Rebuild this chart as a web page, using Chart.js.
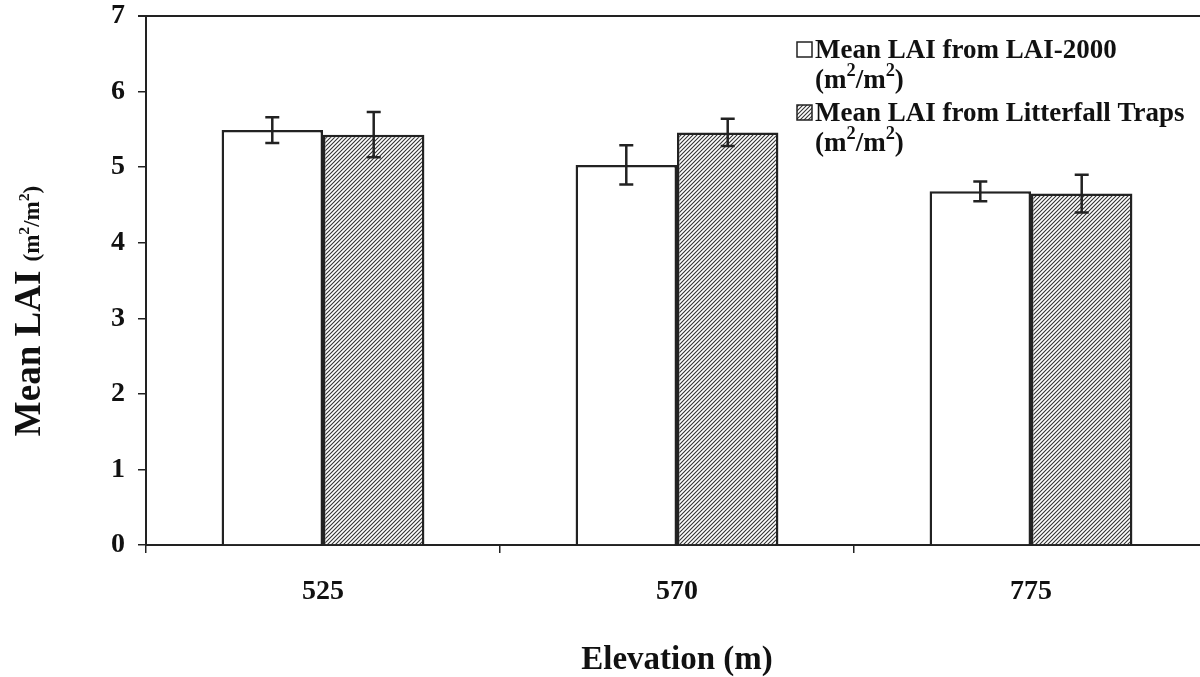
<!DOCTYPE html>
<html>
<head>
<meta charset="utf-8">
<script src="https://cdn.jsdelivr.net/npm/chart.js@4"></script>
<style>
    html, body { margin: 0; padding: 0; background: #fff; overflow: hidden; }
    #wrap { width: 1208px; height: 677px; }
</style>
</head>
<body>
<div id="wrap"><canvas id="chart" width="1208" height="677"></canvas></div>
<script>
// values
const elevations = ["525", "570", "775"];
const laiMeter = [5.49, 5.03, 4.68];
const laiMeterErr = [0.17, 0.26, 0.13];
const laiTraps = [5.43, 5.46, 4.65];
const laiTrapsErr = [0.30, 0.18, 0.25];
const yTicks = [0, 1, 2, 3, 4, 5, 6, 7];

const INK = "#222";
const FONT = "'Liberation Serif', 'Times New Roman', serif";

// diagonal hatch for the litterfall bars
function makeHatch() {
    let c = document.createElement("canvas");
    c.width = 4; c.height = 4;
    let g = c.getContext("2d");
    g.fillStyle = "#fff";
    g.fillRect(0, 0, 4, 4);
    g.strokeStyle = "#333";
    g.lineWidth = 1.1;
    g.beginPath();
    g.moveTo(0, 4); g.lineTo(4, 0);
    g.moveTo(-1, 1); g.lineTo(1, -1);
    g.moveTo(3, 5); g.lineTo(5, 3);
    g.stroke();
    return g.createPattern(c, "repeat");
}
const hatch = makeHatch();

// text with superscripts, parts = [[text, isSup], ...]
function richText(ctx, parts, x, y, size) {
    parts.forEach(p => {
        let s = p[1] ? size * 0.68 : size;
        ctx.font = "bold " + s + "px " + FONT;
        ctx.fillText(p[0], x, p[1] ? y - size * 0.36 : y);
        x += ctx.measureText(p[0]).width;
    });
    return x;
}
function richWidth(ctx, parts, size) {
    let w = 0;
    parts.forEach(p => {
        ctx.font = "bold " + (p[1] ? size * 0.68 : size) + "px " + FONT;
        w += ctx.measureText(p[0]).width;
    });
    return w;
}
const unit = [["(m", false], ["2", true], ["/m", false], ["2", true], [")", false]];

const errorBars = {
    id: "errorBars",
    afterDatasetsDraw(chart) {
        let ctx = chart.ctx;
        let y = chart.scales.y;
        let errs = [laiMeterErr, laiTrapsErr];
        ctx.save();
        ctx.strokeStyle = INK;
        ctx.lineWidth = 2.5;
        chart.data.datasets.forEach((ds, d) => {
            chart.getDatasetMeta(d).data.forEach((bar, i) => {
                let top = y.getPixelForValue(ds.data[i] + errs[d][i]);
                let bot = y.getPixelForValue(ds.data[i] - errs[d][i]);
                ctx.beginPath();
                ctx.moveTo(bar.x, top); ctx.lineTo(bar.x, bot);
                ctx.moveTo(bar.x - 7, top); ctx.lineTo(bar.x + 7, top);
                ctx.moveTo(bar.x - 7, bot); ctx.lineTo(bar.x + 7, bot);
                ctx.stroke();
            });
        });
        ctx.restore();
    }
};

const labels = {
    id: "labels",
    afterDraw(chart) {
        let ctx = chart.ctx;
        let area = chart.chartArea;
        ctx.save();
        ctx.fillStyle = "#111";
        ctx.textBaseline = "middle";

        // top frame line
        ctx.strokeStyle = INK;
        ctx.lineWidth = 2;
        ctx.beginPath();
        ctx.moveTo(area.left - 8, area.top);
        ctx.lineTo(chart.width, area.top);
        ctx.stroke();

        // x title
        ctx.textAlign = "center";
        ctx.font = "bold 33px " + FONT;
        ctx.fillText("Elevation (m)", 677, 660);

        // y title, rotated
        ctx.save();
        ctx.translate(30, 311);
        ctx.rotate(-Math.PI / 2);
        ctx.textAlign = "left";
        let main = "Mean LAI ";
        ctx.font = "bold 37px " + FONT;
        let mw = ctx.measureText(main).width;
        let w = mw + richWidth(ctx, unit, 23);
        let x0 = -w / 2;
        ctx.font = "bold 37px " + FONT;
        ctx.fillText(main, x0, 0);
        richText(ctx, unit, x0 + mw, 3, 23);
        ctx.restore();

        // legend
        ctx.textAlign = "left";
        ctx.lineWidth = 1.5;
        ctx.fillStyle = "#fff";
        ctx.fillRect(797, 42, 15, 15);
        ctx.strokeRect(797, 42, 15, 15);
        ctx.fillStyle = hatch;
        ctx.fillRect(797, 105, 15, 15);
        ctx.strokeRect(797, 105, 15, 15);
        ctx.fillStyle = "#111";
        ctx.font = "bold 27px " + FONT;
        ctx.fillText("Mean LAI from LAI-2000", 815, 51);
        richText(ctx, unit, 815, 81, 27);
        ctx.font = "bold 27px " + FONT;
        ctx.fillText("Mean LAI from Litterfall Traps", 815, 114);
        richText(ctx, unit, 815, 144, 27);
        ctx.restore();
    }
};

new Chart(document.getElementById("chart"), {
    type: "bar",
    data: {
        labels: elevations,
        datasets: [
            { label: "Mean LAI from LAI-2000 (m²/m²)", data: laiMeter,
              backgroundColor: "#fff", borderColor: INK, borderWidth: 2.5 },
            { label: "Mean LAI from Litterfall Traps (m²/m²)", data: laiTraps,
              backgroundColor: hatch, borderColor: INK, borderWidth: 2.5 }
        ]
    },
    options: {
        responsive: false,
        animation: false,
        layout: { padding: { top: 16, left: 0, right: 0, bottom: 0 } },
        datasets: { bar: { categoryPercentage: 0.573, barPercentage: 1 } },
        plugins: { legend: { display: false }, tooltip: { enabled: false } },
        scales: {
            x: {
                grid: { display: true, offset: true, drawOnChartArea: false, tickLength: 8, color: INK, lineWidth: 1.5 },
                border: { color: INK, width: 2 },
                ticks: { color: "#111", padding: 22, font: { family: FONT, size: 28, weight: "bold" } },
                afterFit: s => { s.height = 677 - 545; }
            },
            y: {
                min: 0, max: 7,
                afterBuildTicks: s => { s.ticks = yTicks.map(v => ({ value: v })); },
                grid: { display: true, drawOnChartArea: false, tickLength: 8, color: INK, lineWidth: 1.5 },
                border: { color: INK, width: 2 },
                ticks: { color: "#111", padding: 13, font: { family: FONT, size: 28, weight: "bold" } },
                afterFit: s => { s.width = 146; s.paddingTop = 0; s.paddingBottom = 0; }
            }
        }
    },
    plugins: [errorBars, labels]
});
</script>
</body>
</html>
